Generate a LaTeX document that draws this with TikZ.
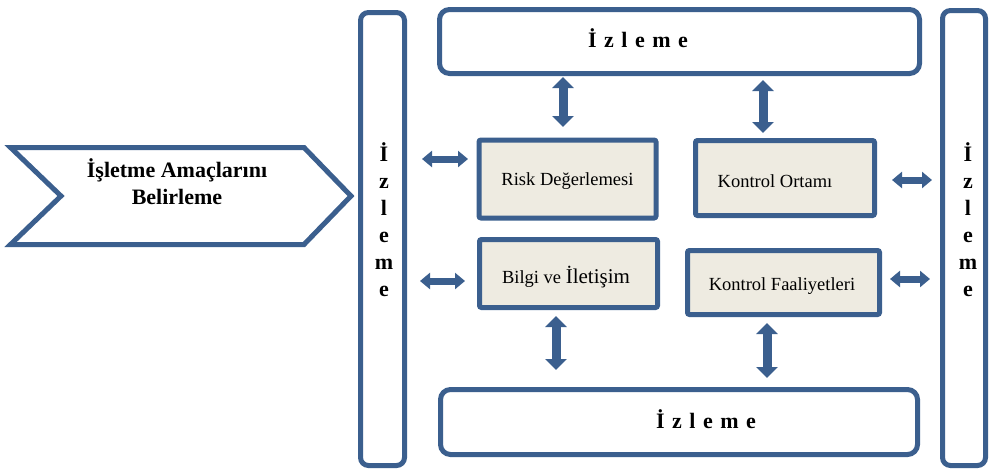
\documentclass[tikz,border=0pt]{standalone}
\usepackage{fontspec}
\setmainfont{Liberation Serif}
\usetikzlibrary{arrows.meta}
\definecolor{bord}{HTML}{3B5F8E}
\definecolor{beige}{HTML}{EEEBE1}
\newcommand{\lsp}{\hspace{7.5pt}}
\begin{document}
\begin{tikzpicture}[x=1pt,y=-1pt,
 bar/.style={draw=bord, line width=5pt, rounded corners=8pt, inner sep=0pt, fill=white},
 comp/.style={draw=bord, line width=5pt, rounded corners=2pt, fill=beige, inner sep=0pt},
 ttl/.style={font=\fontsize{22}{27}\selectfont\bfseries, inner sep=0pt},
 lbl/.style={font=\fontsize{18.5}{22}\selectfont, inner sep=0pt, anchor=base},
 varr/.style={draw=bord, line width=9pt, {Triangle[width=21pt,length=11pt]}-{Triangle[width=21pt,length=11pt]}},
 harr/.style={draw=bord, line width=7pt, {Triangle[width=16pt,length=10pt]}-{Triangle[width=16pt,length=10pt]}},
]
\useasboundingbox (0,0) rectangle (991,471);
% chevron
\draw[bord, line width=5pt, fill=white] (10.5,147.5) -- (304,147.5) -- (351,196) -- (304,244.5) -- (10.5,244.5) -- (61,196) -- cycle;
\node[ttl, align=center] (chevT) at (177,182) {İşletme Amaçlarını\\Belirleme};
% bars and boxes
\node[bar, minimum width=44pt, minimum height=453pt] (lbar) at (382.5,239) {};
\node[bar, minimum width=43pt, minimum height=455pt] (rbar) at (964,238) {};
\node[bar, rounded corners=10pt, minimum width=480pt, minimum height=64pt] (top) at (679.5,41.5) {};
\node[bar, rounded corners=10pt, minimum width=477pt, minimum height=65pt] (bot) at (679,422) {};
\node[comp, minimum width=177pt, minimum height=78pt] (risk) at (567.5,179) {};
\node[comp, minimum width=179pt, minimum height=75pt] (ort) at (785,178) {};
\node[comp, minimum width=178pt, minimum height=68pt] (bil) at (568.5,273.5) {};
\node[comp, minimum width=192pt, minimum height=64pt] (faal) at (783.5,282.5) {};
% texts
\node[ttl, anchor=base] (topT) at (638,47) {İ\lsp z\lsp l\lsp e\lsp m\lsp e};
\node[ttl, anchor=base] (botT) at (706,428) {İ\lsp z\lsp l\lsp e\lsp m\lsp e};
\node[ttl, align=center] (lbarT) at (384,220) {İ\\z\\l\\e\\m\\e};
\node[ttl, align=center] (rbarT) at (968,220) {İ\\z\\l\\e\\m\\e};
\node[lbl] (riskT) at (567.5,185) {Risk Değerlemesi};
\node[lbl] (ortT) at (775,187) {Kontrol Ortamı};
\node[lbl] (bilT) at (566,283) {Bilgi ve {\fontsize{21}{24}\selectfont İletişim}};
\node[lbl] (faalT) at (782,290) {Kontrol Faaliyetleri};
% arrows
\path (risk.north) ++(-4.5,0) coordinate (c1);
\path (ort.north) ++(-22,0) coordinate (c2);
\path (risk.west) ++(0,-20) coordinate (c3);
\path (bil.west) ++(0,7.5) coordinate (c4);
\path (ort.east) ++(0,2) coordinate (c5);
\path (faal.east) ++(0,-3.5) coordinate (c6);
\path (bil.south) ++(-12.5,0) coordinate (c7);
\path (faal.south) ++(-16.5,0) coordinate (c8);
\draw[varr, shorten <=1pt, shorten >=10.5pt] (c1 |- top.south) -- (c1);
\draw[varr, shorten <=4pt, shorten >=5pt] (c2 |- top.south) -- (c2);
\draw[harr, shorten <=15pt, shorten >=8.5pt] (lbar.east |- c3) -- (c3);
\draw[harr, shorten <=13pt, shorten >=12pt] (lbar.east |- c4) -- (c4);
\draw[harr, shorten <=15pt, shorten >=8pt] (c5) -- (rbar.west |- c5);
\draw[harr, shorten <=8pt, shorten >=10pt] (c6) -- (rbar.west |- c6);
\draw[varr, shorten <=6pt, shorten >=17pt] (c7) -- (c7 |- bot.north);
\draw[varr, shorten <=6pt, shorten >=9pt] (c8) -- (c8 |- bot.north);
\end{tikzpicture}
\end{document}
